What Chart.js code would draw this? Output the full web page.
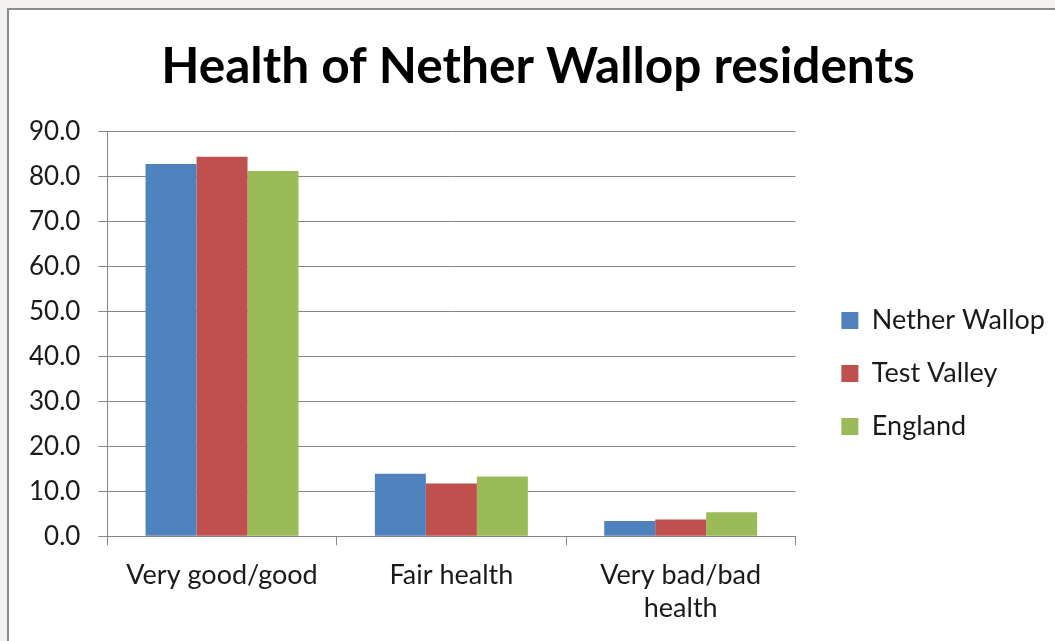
<!DOCTYPE html>
<html>
<head>
<meta charset="utf-8">
<script src="https://cdn.jsdelivr.net/npm/chart.js@4/dist/chart.umd.min.js"></script>
<style>
  html, body { margin: 0; padding: 0; background: #f3f2f1; width: 1055px; height: 641px; overflow: hidden; }
  #frame { position: absolute; left: 7px; top: 8px; width: 1100px; height: 700px; background: #ffffff; border: 2px solid #8c8c8c; box-sizing: border-box; }
  #wrap { position: absolute; left: 0; top: 0; width: 1055px; height: 641px; }
</style>
</head>
<body>
<div id="frame"></div>
<div id="wrap"><canvas id="c" width="1055" height="641"></canvas></div>
<script>
const categories = ["Very good/good", "Fair health", ["Very bad/bad", "health"]];
const seriesNames = ["Nether Wallop", "Test Valley", "England"];
const netherWallop = [82.8, 13.9, 3.4];
const testValley = [84.4, 11.7, 3.7];
const england = [81.2, 13.3, 5.3];
const yTicks = [0, 10, 20, 30, 40, 50, 60, 70, 80, 90];
const colors = ["#4f81bd", "#c0504d", "#9bbb59"];

const boxShift = {
  id: 'boxShift',
  afterLayout(chart) {
    const lg = chart.legend;
    if (lg) {
      const dx = 20, dy = 36;
      lg.left += dx; lg.right += dx; lg.top += dy; lg.bottom += dy;
    }
    const tb = chart.titleBlock;
    if (tb) {
      const tx = 15;
      tb.left += tx; tb.right += tx;
    }
  }
};

new Chart(document.getElementById('c'), {
  type: 'bar',
  data: {
    labels: categories,
    datasets: [
      { label: seriesNames[0], data: netherWallop, backgroundColor: colors[0] },
      { label: seriesNames[1], data: testValley, backgroundColor: colors[1] },
      { label: seriesNames[2], data: england, backgroundColor: colors[2] }
    ]
  },
  plugins: [boxShift],
  options: {
    responsive: false,
    animation: false,
    devicePixelRatio: 1,
    layout: { padding: { left: 11, right: 20, top: 37, bottom: 3 } },
    datasets: { bar: { categoryPercentage: 0.667, barPercentage: 1.0, borderWidth: 0 } },
    plugins: {
      title: {
        display: true,
        text: "Health of Nether Wallop residents",
        color: "#000000",
        font: { family: "Lato", size: 49.6, weight: "bold" },
        padding: { top: 0, bottom: 35 }
      },
      legend: {
        position: 'right',
        align: 'center',
        labels: {
          boxWidth: 17,
          boxHeight: 17,
          color: "#1a1a1a",
          padding: 26,
          font: { family: "Lato", size: 27 }
        }
      },
      tooltip: { enabled: false }
    },
    scales: {
      x: {
        grid: { display: true, drawOnChartArea: false, drawTicks: true, tickLength: 9, color: "#868686", offset: true },
        border: { display: true, color: "#868686", width: 1 },
        ticks: { color: "#1a1a1a", font: { family: "Lato", size: 27 }, padding: 14, maxRotation: 0 }
      },
      y: {
        min: 0,
        max: 90,
        afterBuildTicks(axis) { axis.ticks = yTicks.map(v => ({ value: v })); },
        grid: { color: "#868686", lineWidth: 1, tickLength: 9, drawTicks: true },
        border: { display: true, color: "#868686", width: 1 },
        ticks: { color: "#1a1a1a", font: { family: "Lato", size: 26 }, padding: 18,
          callback: (v) => Number(v).toFixed(1) }
      }
    }
  }
});
</script>
</body>
</html>
